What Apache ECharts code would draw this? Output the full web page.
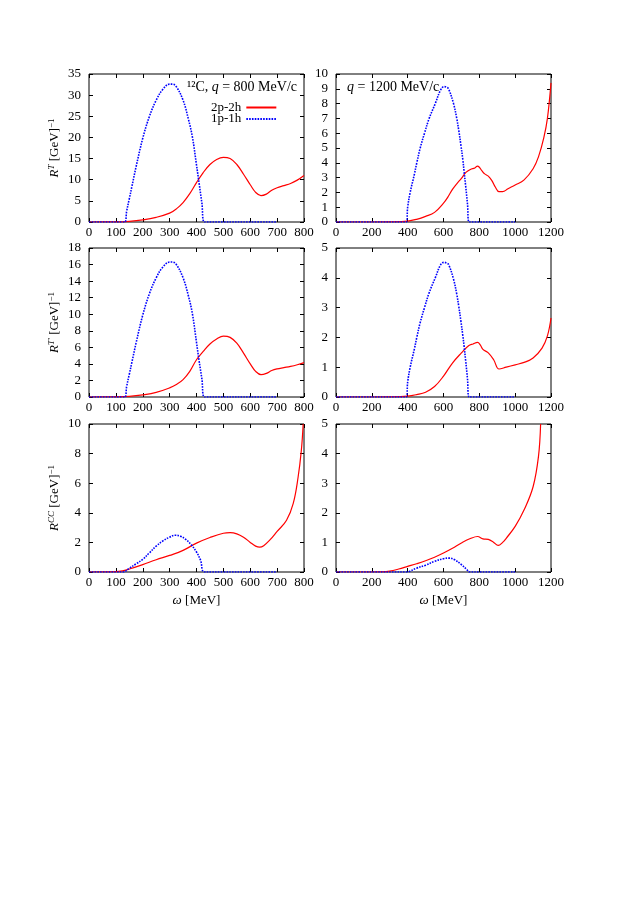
<!DOCTYPE html>
<html>
<head>
<meta charset="utf-8">
<script src="https://cdn.jsdelivr.net/npm/echarts@6/dist/echarts.min.js"></script>
<style>
html,body{margin:0;padding:0;background:#fff;}
#chart{width:638px;height:901px;}
</style>
</head>
<body>
<div id="chart"></div>
<script>
// ---------- Data ----------
// q = 800 MeV/c, R^T
const tl_red_x = [0,100,150,200,250,300,325,350,375,400,425,450,475,500,525,550,575,600,620,640,660,680,700,725,750,775,800];
const tl_red_y = [0,0.02,0.15,0.5,1.1,2.1,3.1,4.6,6.7,9.3,11.7,13.6,14.8,15.3,15.0,13.6,11.3,8.8,7.0,6.25,6.6,7.5,8.1,8.6,9.1,9.9,11.0];
const tl_blue_x = [0,100,133,140,150,160,175,200,225,250,275,300,310,325,350,370,385,400,410,420,430,500,600,700];
const tl_blue_y = [0,0,0,2.5,5.5,8.5,13,19.8,25,28.8,31.4,32.6,32.6,32.0,28.8,24.3,20,13.5,9.0,4.5,0,0,0,0];

// q = 1200 MeV/c, R^T
const tr_red_x = [0,200,300,400,450,500,550,600,625,650,675,700,725,750,775,790,800,815,830,850,870,890,910,930,960,1000,1050,1100,1130,1160,1180,1200];
const tr_red_y = [0,0,0.01,0.06,0.18,0.38,0.65,1.27,1.7,2.2,2.6,2.95,3.35,3.55,3.65,3.78,3.7,3.45,3.25,3.1,2.8,2.35,2.05,2.05,2.25,2.5,2.85,3.6,4.4,5.7,7.0,9.4];
const tr_blue_x = [0,200,392,400,414,437,451,470,494,520,554,585,604,615,628,656,674,685,697,708,715,724,734,743,800,900,1000];
const tr_blue_y = [0,0,0,1.0,2.0,3.2,4.0,5,6,7,8,8.95,9.15,9.12,9,8,7,6.2,5.2,4.2,3.4,2.4,1.2,0,0,0,0];

// q = 800 MeV/c, R^T'
const ml_red_x = tl_red_x;
const ml_red_y = [0,0.01,0.07,0.25,0.55,1.1,1.5,2.1,3.1,4.5,5.5,6.4,7.0,7.35,7.2,6.5,5.3,4.0,3.1,2.7,2.85,3.2,3.4,3.55,3.7,3.9,4.15];
const ml_blue_x = tl_blue_x;
const ml_blue_y = [0,0,0,1.25,2.75,4.25,6.5,9.9,12.5,14.4,15.7,16.3,16.3,16.0,14.4,12.2,10.0,6.6,4.3,2.2,0,0,0,0];

// q = 1200 MeV/c, R^T'
const mr_red_x = [0,200,300,400,450,500,550,600,650,700,740,765,790,805,820,850,880,910,950,1000,1050,1100,1150,1180,1200];
const mr_red_y = [0,0,0.005,0.03,0.08,0.16,0.35,0.7,1.14,1.48,1.72,1.78,1.83,1.75,1.6,1.48,1.25,0.94,1.0,1.08,1.16,1.31,1.64,2.05,2.65];
const mr_blue_x = tr_blue_x;
const mr_blue_y = [0,0,0,0.5,1.0,1.6,2.0,2.5,3.0,3.5,4.0,4.45,4.52,4.5,4.45,3.95,3.45,3.05,2.55,2.05,1.7,1.2,0.6,0,0,0,0];

// q = 800 MeV/c, R^CC
const bl_red_x = [0,100,125,150,200,250,300,350,400,450,500,525,550,575,600,620,635,650,675,700,735,760,778,790,797];
const bl_red_y = [0,0.02,0.08,0.2,0.5,0.83,1.12,1.46,1.95,2.33,2.62,2.66,2.58,2.35,2.0,1.75,1.68,1.78,2.2,2.74,3.5,4.64,6.4,8.2,10.0];
const bl_blue_x = [0,100,127,150,175,200,225,250,275,300,320,340,360,380,400,415,430,500,600,700];
const bl_blue_y = [0,0,0,0.25,0.55,0.85,1.3,1.75,2.1,2.35,2.48,2.42,2.2,1.85,1.35,0.8,0,0,0,0];

// q = 1200 MeV/c, R^CC
const br_red_x = [0,200,250,300,350,400,450,500,550,600,650,700,750,790,820,850,880,905,930,950,1000,1050,1100,1130,1142];
const br_red_y = [0,0,0.005,0.03,0.1,0.19,0.28,0.38,0.5,0.64,0.8,0.98,1.13,1.2,1.12,1.1,1.0,0.9,1.0,1.14,1.54,2.1,2.88,3.9,5.0];
const br_blue_x = [0,200,400,410,450,500,550,600,630,660,700,730,745,800,900,1000];
const br_blue_y = [0,0,0,0.02,0.13,0.23,0.36,0.45,0.47,0.42,0.25,0.08,0,0,0,0];

// axis ranges and ticks
const xMaxLeft = 800, xStepLeft = 100;
const xMaxRight = 1200, xStepRight = 200;
const yMax = [35, 10, 18, 5, 10, 5];
const yStep = [5, 1, 2, 1, 2, 1];
const seriesNames = ['2p-2h', '1p-1h'];

// ---------- Chart ----------
const FONT = 'Liberation Serif';
const FS = 13;
const zip = (xs, ys) => xs.map((x, i) => [x, ys[i]]);
const panels = [
  {red: zip(tl_red_x, tl_red_y), blue: zip(tl_blue_x, tl_blue_y)},
  {red: zip(tr_red_x, tr_red_y), blue: zip(tr_blue_x, tr_blue_y)},
  {red: zip(ml_red_x, ml_red_y), blue: zip(ml_blue_x, ml_blue_y)},
  {red: zip(mr_red_x, mr_red_y), blue: zip(mr_blue_x, mr_blue_y)},
  {red: zip(bl_red_x, bl_red_y), blue: zip(bl_blue_x, bl_blue_y)},
  {red: zip(br_red_x, br_red_y), blue: zip(br_blue_x, br_blue_y)}
];
const gridPos = [
  {left: 89, top: 74, width: 215, height: 148},
  {left: 336, top: 74, width: 215, height: 148},
  {left: 89, top: 248, width: 215, height: 149},
  {left: 336, top: 248, width: 215, height: 149},
  {left: 89, top: 424, width: 215, height: 148},
  {left: 336, top: 424, width: 215, height: 148}
];
const supRich = {
  i: {fontFamily: FONT, fontStyle: 'italic', fontSize: FS, color: '#000', lineHeight: 16},
  n: {fontFamily: FONT, fontSize: FS, color: '#000', lineHeight: 16},
  s: {fontFamily: FONT, fontSize: 9, color: '#000', verticalAlign: 'top', lineHeight: 16},
  si: {fontFamily: FONT, fontStyle: 'italic', fontSize: 9, color: '#000', verticalAlign: 'top', lineHeight: 16}
};
const yNames = [
  '{i|R}{si|T} {n|[GeV]}{s|−1}', '',
  "{i|R}{si|T′} {n|[GeV]}{s|−1}", '',
  '{i|R}{si|CC} {n|[GeV]}{s|−1}', ''
];
const fmt = v => String(v);

const grids = [], xAxes = [], yAxes = [], series = [];
gridPos.forEach((g, k) => {
  const isLeft = k % 2 === 0;
  const isBottom = k >= 4;
  grids.push(Object.assign({show: true, borderColor: '#000', borderWidth: 1, backgroundColor: 'transparent'}, g));
  const xmax = isLeft ? xMaxLeft : xMaxRight;
  const xstep = isLeft ? xStepLeft : xStepRight;
  const tick = () => ({show: true, inside: true, length: 4, lineStyle: {color: '#000', width: 1}});
  const line = () => ({show: false, onZero: false});
  xAxes.push({
    type: 'value', gridIndex: k, min: 0, max: xmax, interval: xstep, position: 'bottom',
    axisLine: line(), axisTick: tick(), splitLine: {show: false},
    axisLabel: {fontFamily: FONT, fontSize: FS, color: '#000', margin: 4, formatter: fmt},
    name: isBottom ? '{i|ω} {n|[MeV]}' : '', nameLocation: 'middle', nameGap: 21,
    nameTextStyle: {rich: supRich}
  });
  xAxes.push({
    type: 'value', gridIndex: k, min: 0, max: xmax, interval: xstep, position: 'top',
    axisLine: line(), axisTick: tick(), splitLine: {show: false}, axisLabel: {show: false}
  });
  yAxes.push({
    type: 'value', gridIndex: k, min: 0, max: yMax[k], interval: yStep[k], position: 'left',
    axisLine: line(), axisTick: tick(), splitLine: {show: false},
    axisLabel: {fontFamily: FONT, fontSize: FS, color: '#000', margin: 8, formatter: fmt},
    name: yNames[k], nameLocation: 'middle', nameGap: 26, nameRotate: 90,
    nameTextStyle: {rich: supRich}
  });
  yAxes.push({
    type: 'value', gridIndex: k, min: 0, max: yMax[k], interval: yStep[k], position: 'right',
    axisLine: line(), axisTick: tick(), splitLine: {show: false}, axisLabel: {show: false}
  });
  series.push({
    name: seriesNames[0], type: 'line', xAxisIndex: 2 * k, yAxisIndex: 2 * k,
    data: panels[k].red, showSymbol: false, symbol: 'none', smooth: 0.4,
    lineStyle: {color: '#ff0000', width: 1.2}, itemStyle: {color: '#ff0000'}, z: 3
  });
  series.push({
    name: seriesNames[1], type: 'line', xAxisIndex: 2 * k, yAxisIndex: 2 * k,
    data: panels[k].blue, showSymbol: false, symbol: 'none', smooth: 0.4,
    lineStyle: {color: '#0000ff', width: 1.6, type: [1.6, 1.2]}, itemStyle: {color: '#0000ff'}, z: 4
  });
});

const chart = echarts.init(document.getElementById('chart'), null, {renderer: 'canvas'});
chart.setOption({
  animation: false,
  backgroundColor: '#fff',
  grid: grids,
  xAxis: xAxes,
  yAxis: yAxes,
  legend: {
    data: seriesNames, orient: 'vertical', left: 211, top: 101, align: 'right',
    itemWidth: 30, itemHeight: 8, itemGap: -1.5, padding: 0,
    itemStyle: {opacity: 0},
    textStyle: {fontFamily: FONT, fontSize: FS, color: '#000', lineHeight: 10},
    selectedMode: false
  },
  graphic: [
    {type: 'text', right: 638 - 297, top: 80, style: {
      text: '{n|¹²C, }{i|q}{n| = 800 MeV/c}',
      rich: {n: {fontFamily: FONT, fontSize: 14, fill: '#000'}, i: {fontFamily: FONT, fontStyle: 'italic', fontSize: 14, fill: '#000'}}
    }},
    {type: 'text', left: 347, top: 80, style: {
      text: '{i|q}{n| = 1200 MeV/c}',
      rich: {n: {fontFamily: FONT, fontSize: 14, fill: '#000'}, i: {fontFamily: FONT, fontStyle: 'italic', fontSize: 14, fill: '#000'}}
    }}
  ],
  series: series
});
</script>
</body>
</html>
